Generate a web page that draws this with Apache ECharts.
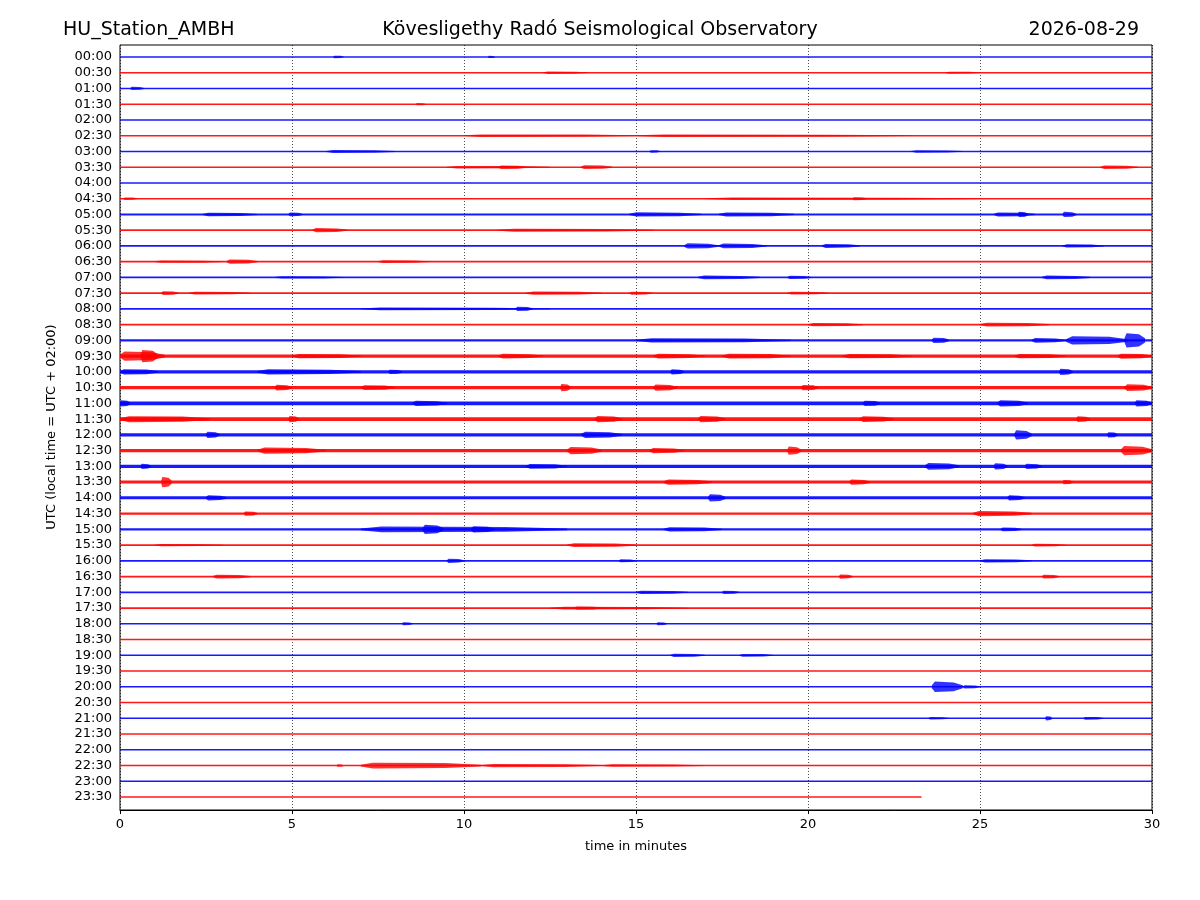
<!DOCTYPE html>
<html>
<head>
<meta charset="utf-8">
<script src="https://cdn.jsdelivr.net/npm/echarts@6/dist/echarts.min.js"></script>
<style>html,body{margin:0;background:#fff}#main{width:1200px;height:900px}</style>
</head>
<body>
<div id="main"></div>
<script>
// row labels (UTC start of each 30 min line)
var rowLabels = [];
for (var h = 0; h < 24; h++) {
	var hh = (h < 10 ? "0" : "") + h;
	rowLabels.push(hh + ":00", hh + ":30");
}
var xTicks = [0, 5, 10, 15, 20, 25, 30];

// background noise level per row
var noiseLevel = [0.6,0.7,0.8,0.6,0.5,0.8,0.8,0.8,0.6,0.7,1.0,0.9,0.9,0.9,0.9,0.9,
	0.9,0.8,1.2,1.6,1.6,1.6,1.8,1.8,1.6,1.6,1.6,1.5,1.5,1.2,1.2,0.9,
	0.8,0.9,0.8,0.8,0.6,0.6,0.7,0.5,0.6,0.5,0.6,0.5,0.6,0.8,0.6,0.5];

// where each line ends (minutes of data)
var rowEnd = [];
for (var r = 0; r < 48; r++) rowEnd.push(r == 47 ? 23.3 : 30);

// bursts: [row, start min, end min, amplitude]
var bursts = [
	[0,6.2,6.5,1.3],[0,10.7,10.9,1.1],
	[1,12.3,13.6,1.2],[1,24,25,1.0],
	[2,0.3,0.7,1.6],
	[3,8.6,8.9,1.1],
	[5,10,15,1.3],[5,15,23,1.2],
	[6,6,8,1.5],[6,15.4,15.7,1.3],[6,23,24.5,1.2],
	[7,9.5,12.5,1.3],[7,11,11.8,1.8],[7,13.4,14.3,1.9],[7,28.5,29.6,1.7],
	[9,0.1,0.5,1.3],[9,17,25,1.2],[9,21.3,21.7,1.5],
	[10,2.4,4,1.8],[10,4.9,5.3,1.9],[10,14.8,16.9,2.1],[10,17.4,19.6,2.0],[10,25.4,26.6,2.0],[10,26.1,26.4,2.6],[10,27.4,27.8,2.6],
	[11,5.6,6.6,2.1],[11,11,15.5,1.5],
	[12,16.4,17.4,2.6],[12,17.4,18.8,2.3],[12,20.4,21.5,2.0],[12,27.4,28.6,1.7],
	[13,1,3,1.2],[13,3.1,4,2.2],[13,7.5,9,1.3],
	[14,4.5,6.5,1.2],[14,16.8,18.6,1.8],[14,19.4,20.1,1.6],[14,26.8,28.2,1.8],
	[15,1.2,1.7,1.9],[15,2,3.8,1.4],[15,11.8,14,1.6],[15,14.8,15.5,1.5],[15,19.4,20.6,1.3],
	[16,7,12.5,1.4],[16,11.5,12,2.1],
	[17,20,21.6,1.6],[17,25,27,1.8],
	[18,15,19.5,2.1],[18,23.6,24.1,2.7],[18,26.5,27.5,2.3],[18,27.5,29.3,4.2],[18,29.2,29.8,7.2],
	[19,0,1.3,4.6],[19,0.6,1.1,6.2],[19,5,7,2.1],[19,11,12.3,2.3],[19,15.5,17,2.3],[19,17.5,19.5,2.4],[19,21,23,2.2],[19,26,27.5,2.2],[19,29,30,2.5],
	[20,0,1.1,2.7],[20,4,7,2.6],[20,7.8,8.2,2.2],[20,16,16.4,2.6],[20,27.3,27.7,3.1],
	[21,4.5,5,2.8],[21,7,8,2.4],[21,12.8,13.1,3.6],[21,15.5,16.2,3.1],[21,19.8,20.3,2.7],[21,29.2,30,3.3],
	[22,0,0.3,3.2],[22,8.5,9.5,2.6],[22,21.6,22.1,2.7],[22,25.5,26.4,3.2],[22,29.5,30,3.2],
	[23,0,2.6,3.0],[23,4.9,5.2,3.1],[23,13.8,14.6,3.2],[23,16.8,17.6,3.1],[23,21.5,22.5,2.9],[23,27.8,28.2,2.9],
	[24,2.5,2.9,3.1],[24,13.4,14.6,3.2],[24,26,26.5,4.6],[24,28.7,29,2.7],
	[25,4,6,3.1],[25,13,14,3.6],[25,15.4,16.4,2.6],[25,19.4,19.8,4.1],[25,29.1,30,4.6],
	[26,0.6,0.9,2.6],[26,11.8,13,2.4],[26,23.4,24.4,3.3],[26,25.4,25.8,3.1],[26,26.3,26.8,2.6],
	[27,1.2,1.5,5.1],[27,15.8,17.2,2.6],[27,21.2,21.8,2.6],[27,27.4,27.7,2.2],
	[28,2.5,3.1,2.6],[28,17.1,17.6,3.6],[28,25.8,26.3,2.6],
	[29,3.6,4,2.1],[29,24.8,26.5,2.6],
	[30,7,13,2.8],[30,8.8,9.4,4.6],[30,10.2,10.9,3.2],[30,15.8,17.5,2.1],[30,25.6,26.2,1.8],
	[31,1,3,1.1],[31,13,15,1.9],[31,26.5,27.5,1.4],
	[32,9.5,10,2.1],[32,14.5,15,1.5],[32,25,26.5,1.6],
	[33,2.7,3.8,1.9],[33,20.9,21.3,2.1],[33,26.8,27.3,1.9],
	[34,15,16.5,1.6],[34,17.5,18,1.6],
	[35,12.5,16.5,1.3],[35,13.2,14,1.6],
	[36,8.2,8.5,1.5],[36,15.6,15.9,1.5],
	[38,16,17,1.6],[38,18,19,1.4],
	[40,23.6,24.5,5.2],[40,24.5,25,1.6],
	[42,23.5,24.1,1.2],[42,26.9,27.1,2.1],[42,28,28.6,1.4],
	[45,7,10.5,2.9],[45,10.5,14,1.6],[45,14,17,1.2],[45,6.3,6.5,1.3]
];

var blue = "#0000ff", red = "#ff0000";
var pxPerUnit = 1.0;

function rowColor(r) { return r % 2 == 0 ? blue : red; }

var noiseData = [], burstData = [];
for (var i = 0; i < 48; i++) noiseData.push([i, 0, rowEnd[i], noiseLevel[i]]);
bursts.forEach(function(b){ burstData.push(b); });

function renderBand(params, api) {
	var row = api.value(0), x0 = api.value(1), x1 = api.value(2), amp = Math.max(api.value(3) * pxPerUnit, 0.75);
	var p0 = api.coord([x0, row]), p1 = api.coord([x1, row]);
	var y = p0[1];
	return {
		type: "rect",
		shape: {x: p0[0], y: y - amp, width: Math.max(p1[0] - p0[0], 1), height: amp * 2},
		style: {fill: rowColor(row), opacity: 0.9}
	};
}
function renderBurst(params, api) {
	var row = api.value(0), x0 = api.value(1), x1 = api.value(2), amp = api.value(3) * pxPerUnit;
	var p0 = api.coord([x0, row]), p1 = api.coord([x1, row]);
	var y = p0[1], w = p1[0] - p0[0];
	var pts = [[p0[0], y - amp * 0.3], [p0[0] + w * 0.1, y - amp], [p0[0] + w * 0.7, y - amp * 0.85], [p1[0], y - amp * 0.3],
		[p1[0], y + amp * 0.3], [p0[0] + w * 0.7, y + amp * 0.85], [p0[0] + w * 0.1, y + amp], [p0[0], y + amp * 0.3]];
	return {
		type: "polygon",
		shape: {points: pts},
		style: {fill: rowColor(row), opacity: 0.8}
	};
}

var myChart = echarts.init(document.getElementById("main"));
var font = "DejaVu Sans";
var txt = {fontSize: 13, color: "#000"};
option = {
	animation: false,
	textStyle: {fontFamily: font},
	title: [
		{text: "HU_Station_AMBH", left: 58, top: 16, textStyle: {fontSize: 19, fontWeight: "normal", color: "#000", fontFamily: font}},
		{text: "Kövesligethy Radó Seismological Observatory", left: "center", top: 16, textStyle: {fontSize: 19, fontWeight: "normal", color: "#000", fontFamily: font}},
		{text: "2026-08-29", right: 56, top: 16, textStyle: {fontSize: 19, fontWeight: "normal", color: "#000", fontFamily: font}}
	],
	grid: [
		{left: 120, right: 48, top: 45, bottom: 90, show: true, borderColor: "#000", borderWidth: 1},
		{left: 120, right: 48, top: 49.1, bottom: 95.1}
	],
	xAxis: [{
		gridIndex: 0, type: "value", min: 0, max: 30, interval: 5,
		name: "time in minutes", nameLocation: "middle", nameGap: 30,
		nameTextStyle: txt,
		axisLine: {lineStyle: {color: "#000"}},
		axisTick: {lineStyle: {color: "#000"}, length: 4},
		axisLabel: txt,
		splitLine: {show: true, lineStyle: {color: "#000", type: [1, 2], width: 0.7}}
	}, {
		gridIndex: 1, type: "value", min: 0, max: 30, show: false
	}],
	yAxis: [{
		gridIndex: 0, type: "value", min: 0, max: 1, show: false
	}, {
		gridIndex: 1, type: "category", data: rowLabels, inverse: true,
		name: "UTC (local time = UTC + 02:00)", nameLocation: "middle", nameGap: 62,
		nameTextStyle: txt,
		axisLine: {show: false},
		axisTick: {alignWithLabel: true, lineStyle: {color: "#000"}, length: 4},
		axisLabel: {fontSize: 13, color: "#000", interval: 0},
		splitLine: {show: false}
	}],
	series: [
		{type: "custom", xAxisIndex: 1, yAxisIndex: 1, renderItem: renderBand, data: noiseData, encode: {x: [1, 2], y: 0}, clip: true},
		{type: "custom", xAxisIndex: 1, yAxisIndex: 1, renderItem: renderBurst, data: burstData, encode: {x: [1, 2], y: 0}, clip: true}
	]
};
myChart.setOption(option);
</script>
</body>
</html>
